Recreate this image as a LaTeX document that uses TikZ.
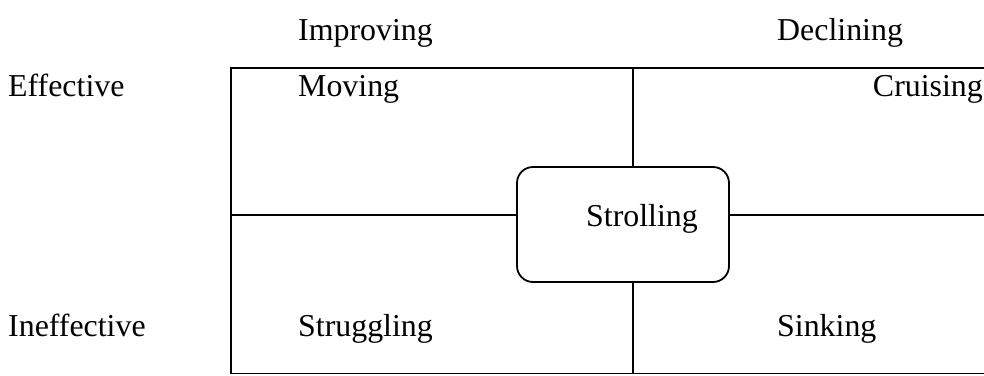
\documentclass[tikz,border=0pt]{standalone}
\usepackage{fontspec}
\setmainfont{Liberation Serif}
\begin{document}
\begin{tikzpicture}[x=1bp, y=-1bp]

      \tikzset{word/.style={anchor=base west, inner sep=0pt, font=\fontsize{32}{38}\selectfont},
               frame/.style={draw, line width=1.8bp},
               roundbox/.style={draw, line width=1.8bp, rounded corners=16bp, minimum width=212bp, minimum height=115bp, inner sep=0pt}}
      \useasboundingbox (0,0) rectangle (984,375);
      \clip (0,0) rectangle (984,375);
%% Frame
      	\coordinate (nw) at (231,68);
      	\coordinate (ne) at (995,68);
      	\coordinate (sw) at (231,373.5);
      	\coordinate (se) at (995,373.5);
      	\coordinate (topmid) at (633,68);
      	\coordinate (botmid) at (633,373.5);
      	\coordinate (leftmid) at (231,215);
      	\coordinate (rightmid) at (995,215);
		\draw [frame] (ne) -- (nw) -- (sw) -- (se);
%% Centre box
      	\node[roundbox] (strolling) at (623,224.5) {};
      	\node[word] (strollingtext) at (586,226) {Strolling};
%% Labels
      	\node[word] (improving) at (298,40) {Improving};
      	\node[word] (declining) at (777,40) {Declining};
      	\node[word] (effective) at (8,96) {Effective};
      	\node[word] (ineffective) at (8,336) {Ineffective};
      	\node[word] (moving) at (298,96) {Moving};
      	\node[word, anchor=base east] (cruising) at (983,96) {Cruising};
      	\node[word] (struggling) at (298,336) {Struggling};
      	\node[word] (sinking) at (777,336) {Sinking};
%Edges
		\draw [frame] (topmid) -- (topmid |- strolling.north);
		\draw [frame] (botmid) -- (botmid |- strolling.south);
		\draw [frame] (leftmid) -- (leftmid -| strolling.west);
		\draw [frame] (rightmid) -- (rightmid -| strolling.east);

	\end{tikzpicture}
\end{document}
